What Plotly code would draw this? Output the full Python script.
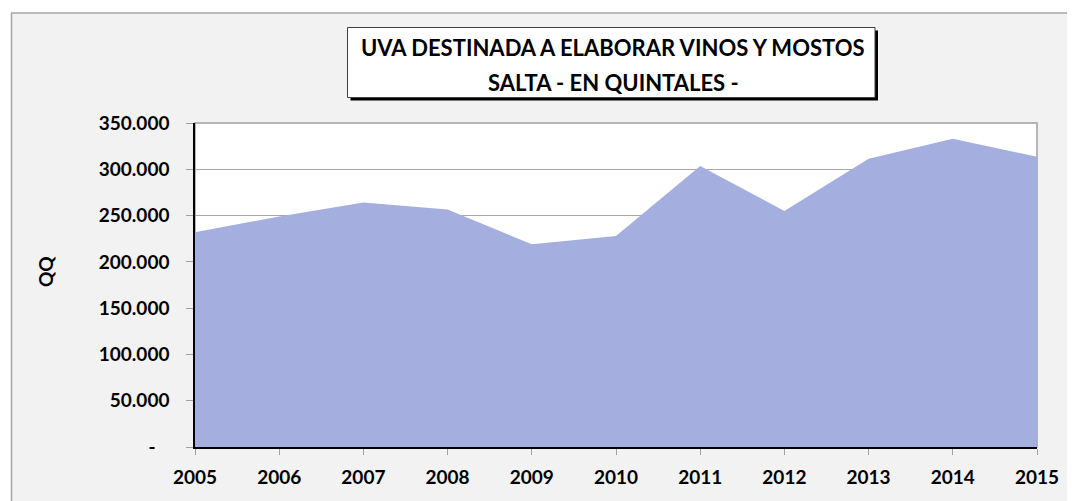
import plotly.graph_objects as go

years = [2005, 2006, 2007, 2008, 2009, 2010, 2011, 2012, 2013, 2014, 2015]
quintales = [232000, 249000, 264000, 256500, 219000, 228000, 303500, 255000, 311500, 333000, 313500]
y_tickvals = [0, 50000, 100000, 150000, 200000, 250000, 300000, 350000]
y_ticktext = ["-   ", "50.000", "100.000", "150.000", "200.000", "250.000", "300.000", "350.000"]
title_lines = ["UVA DESTINADA A ELABORAR VINOS Y MOSTOS", "SALTA - EN QUINTALES -"]
y_title = "QQ"

OFF = 8  # default page body margin
W, H = 1075 - OFF, 501 - OFF
L, R, T, B = 195 - OFF, 1037 - OFF, 123 - OFF, 447 - OFF
pw, ph = R - L, B - T

def px(x):
    return (x - OFF - L) / pw

def py(y):
    return (B - (y - OFF)) / ph

FONT = "Lato"

fig = go.Figure()
fig.add_trace(go.Scatter(
    x=years, y=quintales, mode="lines", fill="tozeroy",
    line=dict(width=0, color="#A5AFDF"), fillcolor="#A5AFDF",
    hoverinfo="x+y", showlegend=False,
))

shapes = [
    dict(type="rect", xref="paper", yref="paper", x0=px(11.5), x1=px(1100), y0=py(13), y1=py(540),
         fillcolor="#F2F2F2", line=dict(color="#A6A6A6", width=1.5), layer="below"),
    dict(type="rect", xref="paper", yref="paper", x0=0, x1=1, y0=0, y1=1,
         fillcolor="white", line=dict(color="#A0A0A0", width=1.5), layer="below"),
    dict(type="rect", xref="paper", yref="paper", x0=px(350.5), x1=px(878), y0=py(100.5), y1=py(30.5),
         fillcolor="black", line=dict(width=0), layer="above"),
    dict(type="rect", xref="paper", yref="paper", x0=px(347.5), x1=px(875), y0=py(97.5), y1=py(27.5),
         fillcolor="white", line=dict(color="#404040", width=1), layer="above"),
]

annotations = [
    dict(text="<b>%s</b>" % title_lines[0], xref="paper", yref="paper", x=px(613), y=py(47),
         showarrow=False, xanchor="center", yanchor="middle", font=dict(family=FONT, size=22, color="black")),
    dict(text="<b>%s</b>" % title_lines[1], xref="paper", yref="paper", x=px(613), y=py(82),
         showarrow=False, xanchor="center", yanchor="middle", font=dict(family=FONT, size=22, color="black")),
    dict(text="<b>%s</b>" % y_title, xref="paper", yref="paper", x=px(45), y=py(272),
         showarrow=False, textangle=-90, xanchor="center", yanchor="middle",
         font=dict(family=FONT, size=19, color="black")),
]

fig.update_layout(
    width=W, height=H,
    margin=dict(l=L, r=W - R, t=T, b=H - B, pad=0),
    paper_bgcolor="white", plot_bgcolor="white",
    shapes=shapes, annotations=annotations,
    showlegend=False,
)
fig.update_xaxes(
    range=[2005, 2015], tickvals=years, ticktext=[f"<b>{y}</b>" for y in years],
    showgrid=False, zeroline=False,
    showline=True, linecolor="black", linewidth=1.5,
    ticks="outside", ticklen=6, tickcolor="#A0A0A0", tickwidth=1,
    ticklabelstandoff=6,
    tickfont=dict(family=FONT, size=19, color="black"), layer="above traces",
)
fig.update_yaxes(
    range=[0, 350000], tickvals=y_tickvals, ticktext=[f"<b>{t}</b>" for t in y_ticktext],
    showgrid=True, gridcolor="#A6A6A6", gridwidth=1, zeroline=False,
    showline=True, linecolor="black", linewidth=1.5,
    ticks="outside", ticklen=7, tickcolor="#A0A0A0", tickwidth=1,
    ticklabelstandoff=13,
    tickfont=dict(family=FONT, size=19, color="black"), layer="above traces",
)

fig.write_html("out.html")
